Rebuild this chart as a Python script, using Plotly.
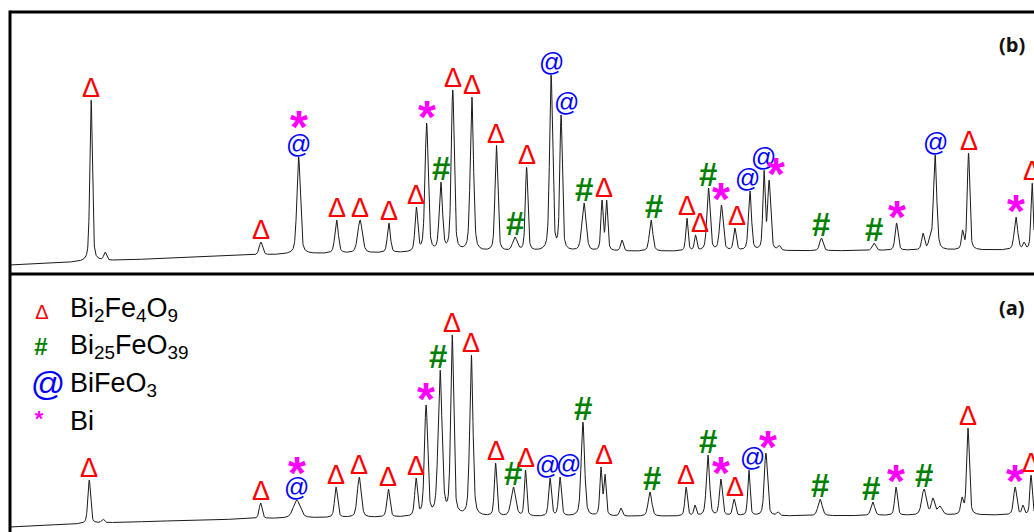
import numpy as np
import plotly.graph_objects as go

# ---------------- data ----------------
# x axis: 2-theta (deg)
two_theta_min, two_theta_max = 11.7, 49.7

# Panel (b): peak position (2θ), peak-top intensity (a.u.), FWHM (deg)
b_pos = [14.71, 15.23, 21.01, 22.41, 23.82, 24.69, 25.76, 26.78, 27.16, 27.69,
         28.13, 28.84, 29.75, 30.44, 30.87, 31.78, 32.15, 33.00, 33.67, 33.84,
         34.41, 35.49, 36.82, 37.14, 37.62, 38.10, 38.60, 39.16, 39.68, 39.87,
         40.24, 41.81, 43.76, 44.60, 45.58, 45.84, 46.03, 47.05, 47.27, 49.03,
         49.33, 49.63]
b_top = [174, 22, 32, 117, 54, 54, 51, 67, 151, 92,
         184, 177, 129, 37, 107, 199, 159, 71, 74, 74,
         34, 54, 56, 39, 86, 69, 46, 83, 104, 94,
         29, 36, 31, 51, 41, 39, 119, 44, 121, 57,
         32, 91]
b_fwhm = [0.11, 0.12, 0.15, 0.15, 0.15, 0.20, 0.13, 0.12, 0.14, 0.14,
          0.13, 0.14, 0.12, 0.20, 0.11, 0.13, 0.11, 0.18, 0.10, 0.10,
          0.12, 0.15, 0.10, 0.10, 0.14, 0.15, 0.12, 0.13, 0.10, 0.13,
          0.12, 0.15, 0.15, 0.13, 0.12, 0.12, 0.14, 0.10, 0.11, 0.15,
          0.10, 0.10]
b_bg_x = [11.7, 15.04, 18.75, 22.46, 29.88, 41.02, 49.7]
b_bg_y = [9, 13, 17, 20, 22, 23, 24]

# Panel (a)
a_pos = [14.64, 15.15, 21.00, 22.34, 23.80, 24.66, 25.74, 26.77, 27.14, 27.66,
         28.11, 28.82, 29.72, 30.38, 30.83, 31.74, 32.11, 32.96, 33.63, 33.78,
         34.37, 35.45, 36.79, 37.12, 37.60, 38.08, 38.57, 39.12, 39.75, 40.20,
         41.76, 43.72, 44.58, 45.62, 45.95, 46.21, 47.03, 47.25, 49.00, 49.29,
         49.59]
a_top = [52, 13, 29, 32, 45, 55, 43, 54, 127, 162,
         197, 177, 69, 45, 62, 54, 55, 110, 65, 58,
         24, 40, 45, 27, 77, 53, 33, 62, 79, 20,
         33, 30, 45, 43, 34, 26, 35, 104, 45, 27,
         57]
a_fwhm = [0.12, 0.12, 0.13, 0.30, 0.13, 0.17, 0.13, 0.12, 0.14, 0.17,
          0.13, 0.14, 0.11, 0.20, 0.10, 0.12, 0.12, 0.15, 0.10, 0.10,
          0.12, 0.16, 0.11, 0.10, 0.14, 0.13, 0.12, 0.10, 0.14, 0.12,
          0.18, 0.16, 0.12, 0.20, 0.15, 0.20, 0.12, 0.12, 0.14, 0.10,
          0.10]
a_bg_x = [11.7, 15.04, 18.75, 22.46, 29.88, 41.02, 49.7]
a_bg_y = [5, 9, 12, 14, 15, 16, 17]

# Phase labels: peak (2θ) each symbol marks
b_lab_x = [14.71, 21.01, 22.41, 22.41, 23.82, 24.69, 25.76, 26.78, 27.16, 27.69,
           28.13, 28.84, 29.75, 30.44, 30.87, 31.78, 32.15, 33.00, 33.75, 35.49,
           36.82, 37.14, 37.62, 38.10, 38.60, 39.16, 39.68, 39.87, 41.81, 43.76,
           44.60, 46.03, 47.27, 49.03, 49.63]
b_lab_s = ["Δ", "Δ", "@", "*", "Δ", "Δ", "Δ", "Δ", "*", "#",
           "Δ", "Δ", "Δ", "#", "Δ", "@", "@", "#", "Δ", "#",
           "Δ", "Δ", "#", "*", "Δ", "@", "@", "*", "#", "#",
           "*", "@", "Δ", "*", "Δ"]
a_lab_x = [14.64, 21.00, 22.34, 22.34, 23.80, 24.66, 25.74, 26.77, 27.14, 27.66,
           28.11, 28.82, 29.72, 30.38, 30.83, 31.74, 32.11, 32.96, 33.63, 35.45,
           36.79, 37.60, 38.08, 38.57, 39.12, 39.75, 41.76, 43.72, 44.58, 45.62,
           47.25, 49.00, 49.59]
a_lab_s = ["Δ", "Δ", "@", "*", "Δ", "Δ", "Δ", "Δ", "*", "#",
           "Δ", "Δ", "Δ", "#", "Δ", "@", "@", "#", "Δ", "#",
           "Δ", "#", "*", "Δ", "@", "*", "#", "#", "*", "#",
           "Δ", "*", "Δ"]

legend_syms = ["Δ", "#", "@", "*"]
legend_names = ["Bi<sub>2</sub>Fe<sub>4</sub>O<sub>9</sub>",
                "Bi<sub>25</sub>FeO<sub>39</sub>",
                "BiFeO<sub>3</sub>",
                "Bi"]

# ---------------- profile construction ----------------
def pv(x, x0, w, eta=0.45):
    d = (np.asarray(x) - x0) / w
    return eta / (1 + 4 * d ** 2) + (1 - eta) * np.exp(-4 * np.log(2) * d ** 2)

def build(pos, top, fwhm, bgx, bgy, grid):
    pos = np.array(pos); top = np.array(top, float); fwhm = np.array(fwhm)
    M = np.array([[pv(p, q, w) for q, w in zip(pos, fwhm)] for p in pos])
    rhs = top - np.interp(pos, bgx, bgy)
    amp = np.clip(np.linalg.solve(M, rhs), 0, None)
    y = np.interp(grid, bgx, bgy)
    for q, w, a in zip(pos, fwhm, amp):
        y = y + a * pv(grid, q, w)
    return y

grid = np.linspace(two_theta_min, two_theta_max, 4000)
yb = build(b_pos, b_top, b_fwhm, b_bg_x, b_bg_y, grid)
ya = build(a_pos, a_top, a_fwhm, a_bg_x, a_bg_y, grid)

def local_top(prof, x, half=0.09):
    m = (grid >= x - half) & (grid <= x + half)
    return float(prof[m].max())

# ---------------- figure ----------------
W, H = 1034, 532
ML, MT = 10, 12
split = (H - 274) / (H - MT)
deg_per_px = (two_theta_max - two_theta_min) / (W - ML)

fig = go.Figure()
fig.add_trace(go.Scatter(x=grid, y=yb, mode="lines", line=dict(color="#1a1a1a", width=1),
                         xaxis="x", yaxis="y", hoverinfo="skip"))
fig.add_trace(go.Scatter(x=grid, y=ya, mode="lines", line=dict(color="#1a1a1a", width=1),
                         xaxis="x2", yaxis="y2", hoverinfo="skip"))

sym_style = {
    "Δ": dict(color="#ff0000", size=27, family="Liberation Sans", weight="normal", yshift=-5),
    "@": dict(color="#0000ff", size=25, family="Liberation Sans", weight="normal", yshift=-3),
    "#": dict(color="#008000", size=33, family="Liberation Sans", weight="bold", yshift=-7),
    "*": dict(color="#ff00ff", size=46, family="Liberation Sans", weight="bold", yshift=-22),
}
stack_gap = {"top": 24, "bottom": 21}

# per-label horizontal nudges (px)
b_nudge = {16: 5, 19: 3, 21: 4, 24: 2, 25: -2, 27: 7}
a_nudge = {9: -2, 15: -3, 16: 8, 18: 3, 19: 2, 23: 1, 24: 4, 25: 2, 27: -2}

annotations = []

def add_labels(lab_x, lab_s, prof, xref, yref, nudge, gap):
    seen = {}
    for i, (x, s) in enumerate(zip(lab_x, lab_s)):
        st = sym_style[s]
        lvl = seen.get(x, 0)
        seen[x] = lvl + 1
        annotations.append(dict(
            x=x, y=local_top(prof, x), xref=xref, yref=yref, text=s, showarrow=False,
            xanchor="center", yanchor="bottom",
            yshift=st["yshift"] + lvl * gap, xshift=nudge.get(i, 0),
            font=dict(color=st["color"], size=st["size"], family=st["family"], weight=st["weight"])))

add_labels(b_lab_x, b_lab_s, yb, "x", "y", b_nudge, stack_gap["top"])
add_labels(a_lab_x, a_lab_s, ya, "x2", "y2", a_nudge, stack_gap["bottom"])

def px(xp):
    return (xp - ML) / (W - ML)

def py(yp):
    return (H - yp) / (H - MT)

# panel tags
for tag, yc in [("(b)", 44), ("(a)", 307)]:
    annotations.append(dict(x=px(1027), y=py(yc), xref="paper", yref="paper", text=tag,
                            showarrow=False, xanchor="right", yanchor="middle",
                            font=dict(family="Open Sans", size=20, color="#111", weight="bold")))

# legend block, drawn as text traces on the lower panel (page-pixel positions converted)
leg_sym_font = {"Δ": (20, "normal"), "#": (24, "bold"), "@": (34, "normal"), "*": (22, "bold")}
leg_sym_px = {"Δ": (42, 314), "#": (41, 349), "@": (48, 386), "*": (39, 420)}
row_y = [310, 347, 385, 423]

def to_x2(xp):
    return two_theta_min + (xp - ML) * deg_per_px

for s, name, yc in zip(legend_syms, legend_names, row_y):
    st = sym_style[s]
    sx, sy = leg_sym_px[s]
    fig.add_trace(go.Scatter(x=[to_x2(sx)], y=[H - sy], mode="text", text=[s],
                             textposition="middle center", xaxis="x2", yaxis="y2",
                             hoverinfo="skip", cliponaxis=False,
                             textfont=dict(color=st["color"], size=leg_sym_font[s][0],
                                           weight=leg_sym_font[s][1], family="Liberation Sans")))
    fig.add_trace(go.Scatter(x=[to_x2(70)], y=[H - yc], mode="text", text=[name],
                             textposition="middle right", xaxis="x2", yaxis="y2",
                             hoverinfo="skip", cliponaxis=False,
                             textfont=dict(color="#000", size=27, family="Liberation Sans")))

shapes = [
    dict(type="line", xref="paper", yref="paper", x0=0, x1=1.02, y0=1, y1=1,
         line=dict(color="#000", width=3)),
    dict(type="line", xref="paper", yref="paper", x0=0, x1=1.02, y0=split, y1=split,
         line=dict(color="#000", width=3)),
    dict(type="line", xref="paper", yref="paper", x0=0, x1=0, y0=-0.02, y1=1.003,
         line=dict(color="#000", width=3)),
]

ax_common = dict(range=[two_theta_min, two_theta_max], showgrid=False, zeroline=False,
                 showticklabels=False, ticks="", showline=False, fixedrange=True)
fig.update_layout(
    width=W, height=H, margin=dict(l=ML, r=0, t=MT, b=0),
    paper_bgcolor="white", plot_bgcolor="white", showlegend=False,
    xaxis=dict(ax_common, domain=[0, 1], anchor="y"),
    yaxis=dict(range=[0, 274 - MT], domain=[split, 1], visible=False, anchor="x"),
    xaxis2=dict(ax_common, domain=[0, 1], anchor="y2"),
    yaxis2=dict(range=[0, H - 274], domain=[0, split], visible=False, anchor="x2"),
    annotations=annotations, shapes=shapes,
)
fig.write_html("out.html", config={"displayModeBar": False},
               post_script="document.body.style.margin='0px';document.body.style.overflow='hidden';")
